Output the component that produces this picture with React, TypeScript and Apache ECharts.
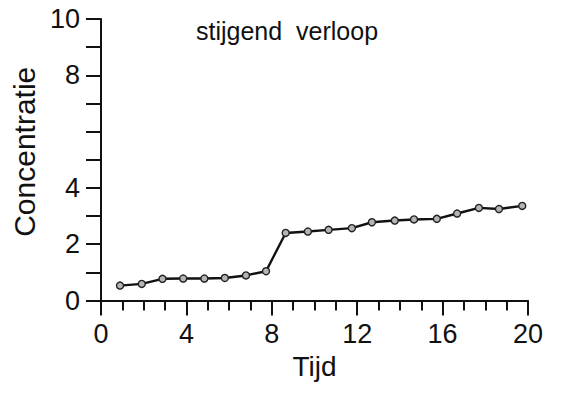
import React, { useEffect, useRef } from "react";
import * as echarts from "echarts";

const tijd = [0.89, 1.91, 2.88, 3.85, 4.84, 5.8, 6.79, 7.73, 8.65, 9.69, 10.66, 11.75, 12.69, 13.76, 14.66, 15.73, 16.68, 17.7, 18.64, 19.73];
const concentratie = [0.53, 0.59, 0.77, 0.78, 0.78, 0.8, 0.89, 1.04, 2.4, 2.45, 2.51, 2.57, 2.78, 2.84, 2.88, 2.9, 3.09, 3.29, 3.25, 3.36];
const yLabelsShown = [0, 2, 4, 8, 10];
const xLabelsShown = [0, 4, 8, 12, 16, 20];
const titleText = "stijgend  verloop";
const xName = "Tijd";
const yName = "Concentratie";

const FONT = "'Liberation Sans', Arial, sans-serif";

export default function App() {
  const ref = useRef<HTMLDivElement>(null);
  useEffect(() => {
    document.body.style.margin = "0";
    const chart = echarts.init(ref.current!, null, { renderer: "svg" });
    const data = tijd.map((x, i) => [x, concentratie[i]]);
    chart.setOption({
      animation: false,
      backgroundColor: "#ffffff",
      title: {
        text: titleText,
        left: 196,
        top: 18,
        padding: 0,
        textStyle: { fontFamily: FONT, fontSize: 25, fontWeight: "normal", color: "#111" },
      },
      grid: { left: 101, right: 33, top: 19, bottom: 95.5 },
      xAxis: {
        type: "value",
        min: 0,
        max: 20,
        interval: 4,
        name: xName,
        nameLocation: "middle",
        nameGap: 52,
        nameTextStyle: { fontFamily: FONT, fontSize: 28, color: "#111" },
        axisLine: { show: true, onZero: false, lineStyle: { color: "#111", width: 2 } },
        axisTick: { show: true, inside: false, length: 15, lineStyle: { color: "#111", width: 2 } },
        minorTick: { show: true, splitNumber: 4, length: 10, lineStyle: { color: "#111", width: 2 } },
        splitLine: { show: false },
        minorSplitLine: { show: false },
        axisLabel: {
          margin: 20,
          fontFamily: FONT,
          fontSize: 27,
          color: "#111",
          formatter: (v: number) => (xLabelsShown.includes(v) ? String(v) : ""),
        },
      },
      yAxis: {
        type: "value",
        min: 0,
        max: 10,
        interval: 1,
        name: yName,
        nameLocation: "middle",
        nameGap: 58,
        nameRotate: 90,
        nameTextStyle: { fontFamily: FONT, fontSize: 30, color: "#111", padding: [0, 0, 0, 16] },
        axisLine: { show: true, lineStyle: { color: "#111", width: 2 } },
        axisTick: { show: true, inside: false, length: 15, lineStyle: { color: "#111", width: 2 } },
        splitLine: { show: false },
        axisLabel: {
          margin: 21,
          fontFamily: FONT,
          fontSize: 27,
          color: "#111",
          formatter: (v: number) => (yLabelsShown.includes(v) ? String(v) : ""),
        },
      },
      series: [
        {
          type: "line",
          data,
          symbol: "circle",
          symbolSize: 7,
          lineStyle: { color: "#111", width: 2.4 },
          itemStyle: { color: "#b5b5b5", borderColor: "#222", borderWidth: 1.4 },
        },
      ],
    });
    return () => chart.dispose();
  }, []);
  return <div ref={ref} style={{ width: 561, height: 396 }} />;
}
